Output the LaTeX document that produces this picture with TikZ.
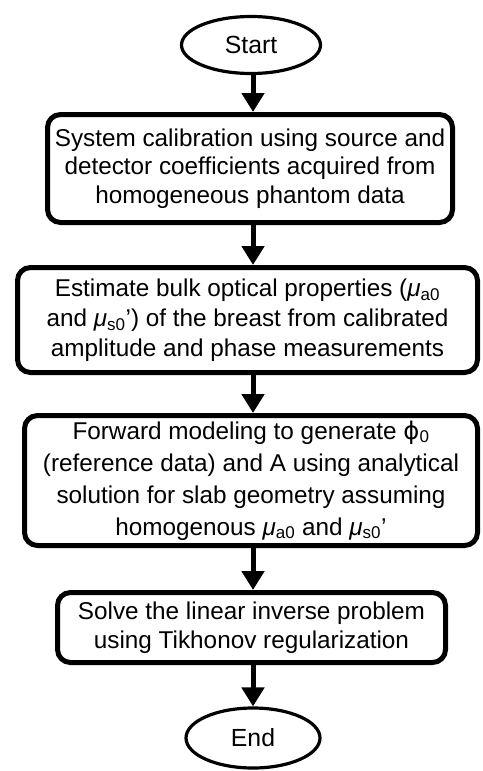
\documentclass[tikz,border=0pt]{standalone}
\usepackage{fontspec}
\setmainfont{Liberation Sans}
\newfontfamily\symfont{DejaVu Sans}
\usetikzlibrary{shapes.geometric,arrows.meta}
\begin{document}
\begin{tikzpicture}[x=1pt,y=-1pt,
  every node/.style={font=\fontsize{24.3}{29}\selectfont},
  terminal/.style={ellipse,draw,line width=3.2pt,inner sep=0pt,font=\fontsize{24.8}{29}\selectfont},
  procbox/.style={draw,line width=5pt,rounded corners=13pt,align=center,inner sep=0pt},
  flow/.style={line width=5pt,-{Triangle[width=22pt,length=19pt]}}]
\useasboundingbox (0,0) rectangle (482,771);
\node[terminal,minimum width=139pt,minimum height=57pt] (start) at (251,45) {Start};
\node[procbox,minimum width=405pt,minimum height=108pt,font=\fontsize{24.3}{28.5}\selectfont] (b1) at (250,168.5)
  {System calibration using source and\\detector coefficients acquired from\\homogeneous phantom data};
\node[procbox,minimum width=460pt,minimum height=105pt,font=\fontsize{24.3}{30}\selectfont] (b2) at (247.5,320)
  {Estimate bulk optical properties (\textit{μ}\textsubscript{a0}\\and \textit{μ}\textsubscript{s0}’) of the breast from calibrated\\amplitude and phase measurements};
\node[procbox,minimum width=453pt,minimum height=130pt,font=\fontsize{24.3}{32}\selectfont] (b3) at (251,480.5)
  {Forward modeling to generate {\symfont ϕ}\textsubscript{0}\\(reference data) and A using analytical\\solution for slab geometry assuming\\homogenous \textit{μ}\textsubscript{a0} and \textit{μ}\textsubscript{s0}’};
\node[procbox,minimum width=388pt,minimum height=70pt,font=\fontsize{24.3}{28.5}\selectfont] (b4) at (251.5,627.5)
  {Solve the linear inverse problem\\using Tikhonov regularization};
\node[terminal,minimum width=134pt,minimum height=60pt] (end) at (253,738) {End};
\coordinate (ax) at (253,0);
\draw[flow] (ax |- start.south) -- (ax |- b1.north);
\draw[flow] (ax |- b1.south) -- (ax |- b2.north);
\draw[flow] (ax |- b2.south) -- (ax |- b3.north);
\draw[flow] (ax |- b3.south) -- (ax |- b4.north);
\draw[flow] (ax |- b4.south) -- (ax |- end.north);
\end{tikzpicture}
\end{document}
